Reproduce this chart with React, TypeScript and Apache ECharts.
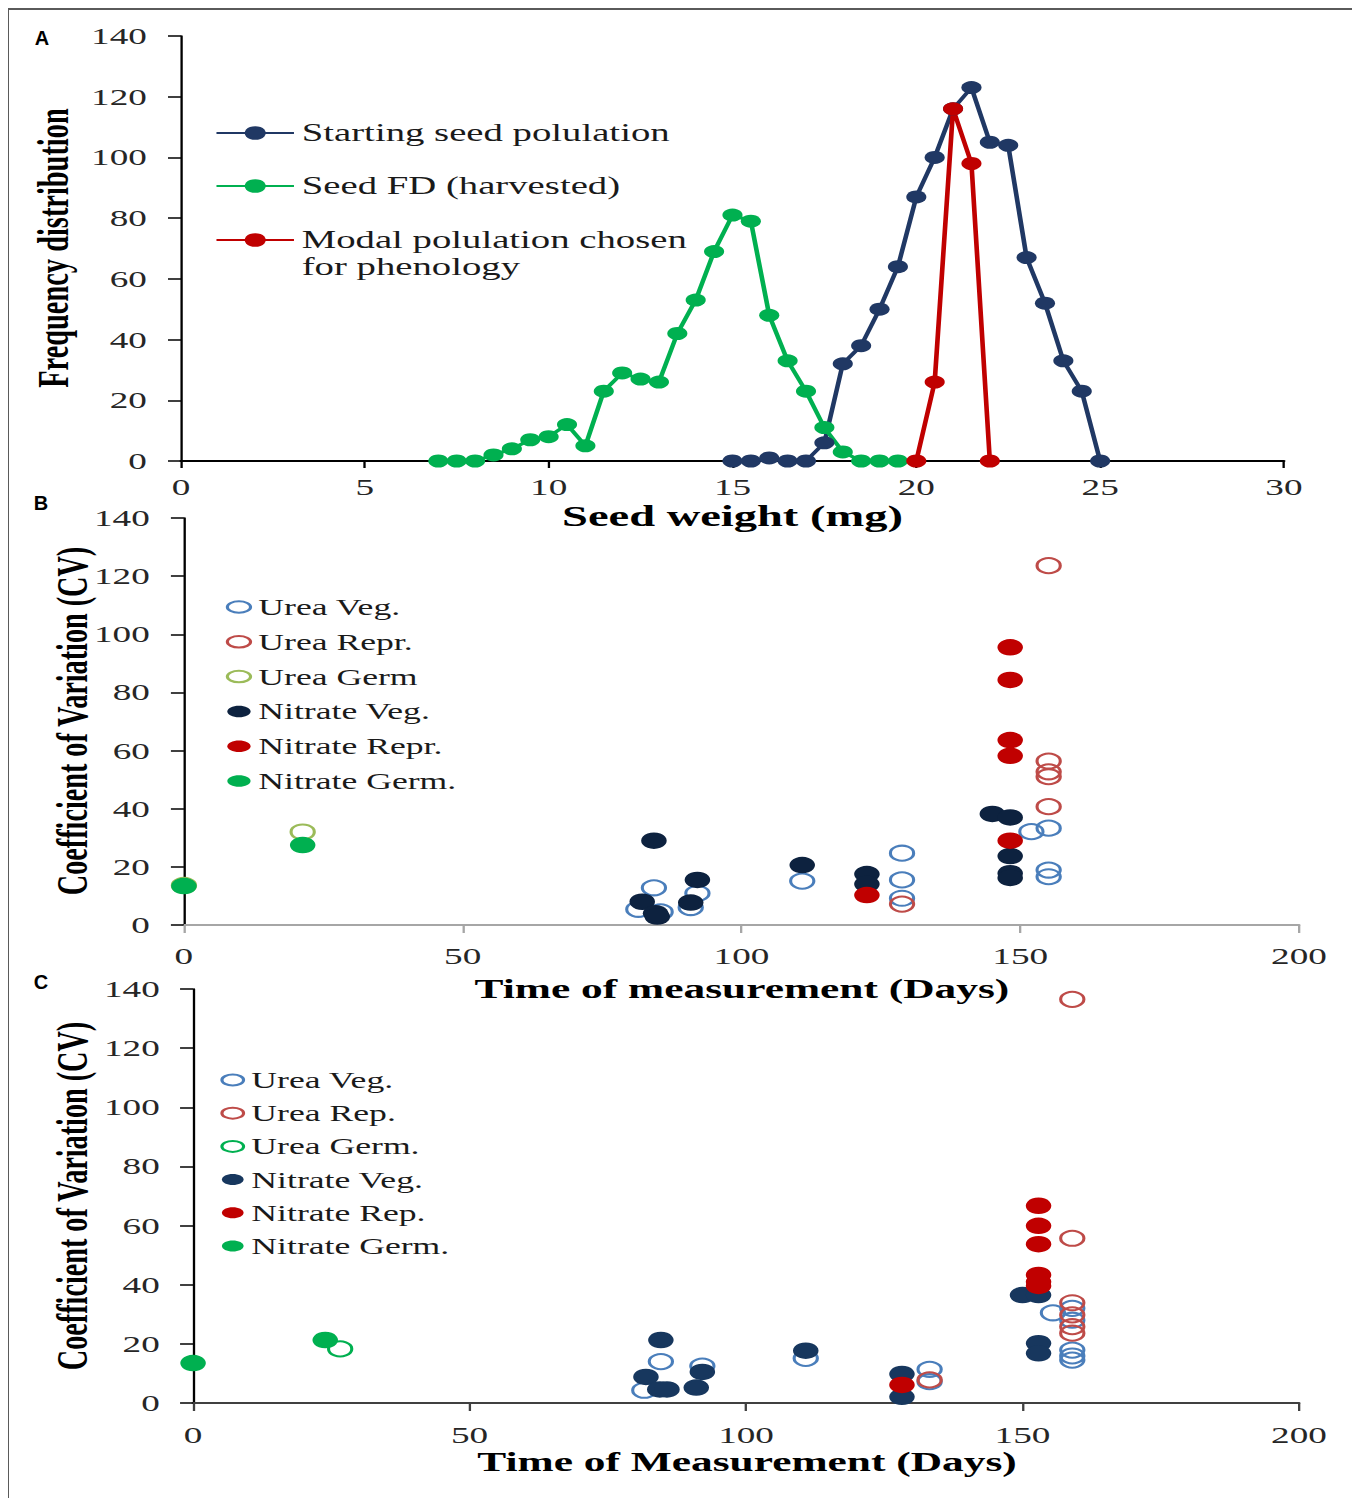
import React, { useEffect, useRef } from 'react';
import * as echarts from 'echarts';

// horizontal stretch of the original figure
const K = 1.55;
const W = 1344 / K;
const H = 1490;

const SERIF = '"Liberation Serif", "Times New Roman", serif';
const SANS = '"Liberation Sans", Arial, sans-serif';
const ELLIPSE =
  'path://M0,50C0,22.4 30.5,0 68,0C105.5,0 136,22.4 136,50C136,77.6 105.5,100 68,100C30.5,100 0,77.6 0,50Z';

// ---------- Panel A: seed weight frequency distribution ----------
const weightStart = [15, 15.5, 16, 16.5, 17, 17.5, 18, 18.5, 19, 19.5, 20, 20.5, 21, 21.5, 22, 22.5, 23, 23.5, 24, 24.5, 25];
const freqStart = [0, 0, 1, 0, 0, 6, 32, 38, 50, 64, 87, 100, 116, 123, 105, 104, 67, 52, 33, 23, 0];
const weightHarvest = [7, 7.5, 8, 8.5, 9, 9.5, 10, 10.5, 11, 11.5, 12, 12.5, 13, 13.5, 14, 14.5, 15, 15.5, 16, 16.5, 17, 17.5, 18, 18.5, 19, 19.5];
const freqHarvest = [0, 0, 0, 2, 4, 7, 8, 12, 5, 23, 29, 27, 26, 42, 53, 69, 81, 79, 48, 33, 23, 11, 3, 0, 0, 0];
const weightModal = [20, 20.5, 21, 21.5, 22];
const freqModal = [0, 26, 116, 98, 0];
const aXTicks = { min: 0, max: 30, interval: 5 };
const cvTicks = { min: 0, max: 140, interval: 20 };
const dayTicks = { min: 0, max: 200, interval: 50 };

// ---------- Panel B ----------
const bUreaVegDay = [81.5, 84.3, 85.5, 90.9, 92.1, 110.9, 128.8, 128.8, 128.8, 152.0, 155.1, 155.1, 155.1];
const bUreaVegCV = [5.4, 12.8, 4.5, 6.0, 10.9, 15.1, 24.7, 15.5, 9.2, 32.1, 33.3, 18.9, 16.6];
const bUreaReprDay = [128.8, 155.1, 155.1, 155.1, 155.1, 155.1];
const bUreaReprCV = [7.2, 123.6, 56.4, 52.7, 51.0, 40.7];
const bUreaGermDay = [0, 21.3];
const bUreaGermCV = [13.6, 32.0];
const bNitVegDay = [82.2, 84.3, 84.6, 84.9, 90.9, 92.1, 110.9, 122.5, 122.5, 145.0, 148.2, 148.2, 148.2, 148.2];
const bNitVegCV = [8.0, 29.0, 4.0, 2.9, 7.7, 15.5, 20.6, 17.5, 14.1, 38.2, 37.0, 23.7, 17.8, 16.2];
const bNitReprDay = [122.5, 148.2, 148.2, 148.2, 148.2, 148.2];
const bNitReprCV = [10.3, 95.5, 84.3, 63.6, 58.2, 29.0];
const bNitGermDay = [0, 21.3];
const bNitGermCV = [13.4, 27.5];

// ---------- Panel C ----------
const cUreaVegDay = [81.6, 84.6, 92.1, 110.8, 133.2, 133.2, 155.5, 159, 159, 159, 159, 159];
const cUreaVegCV = [4.3, 14.0, 12.5, 15.1, 11.4, 7.2, 30.5, 32.0, 28.0, 17.9, 15.9, 14.5];
const cUreaRepDay = [133.2, 159, 159, 159, 159, 159, 159];
const cUreaRepCV = [7.8, 136.5, 55.7, 33.9, 29.8, 25.8, 23.6];
const cUreaGermDay = [26.6];
const cUreaGermCV = [18.3];
const cNitVegDay = [81.9, 84.6, 84.4, 85.7, 91.0, 92.1, 110.8, 128.2, 128.2, 150.0, 152.9, 152.9, 152.9];
const cNitVegCV = [8.8, 21.3, 4.6, 4.6, 5.2, 10.5, 17.7, 9.8, 2.1, 36.5, 36.5, 20.2, 16.8];
const cNitRepDay = [128.2, 152.9, 152.9, 152.9, 152.9, 152.9, 152.9];
const cNitRepCV = [6.1, 66.7, 59.9, 53.7, 43.3, 41.0, 39.6];
const cNitGermDay = [0, 23.9];
const cNitGermCV = [13.5, 21.3];

const pairs = (xs: number[], ys: number[]) => xs.map((x, i) => [x, ys[i]]);

const tickLabel = (margin: number) => ({
  show: true,
  margin,
  fontSize: 24,
  lineHeight: 24,
  fontFamily: SERIF,
  color: '#262626',
});

const valueAxis = (ticks: any, lineColor: string, lineWidth: number, tickLen: number, margin: number) => ({
  type: 'value',
  ...ticks,
  axisLine: { show: true, onZero: false, lineStyle: { color: lineColor, width: lineWidth } },
  axisTick: { show: true, inside: false, length: tickLen, lineStyle: { color: lineColor, width: 1.5 } },
  axisLabel: tickLabel(margin),
  splitLine: { show: false },
});

const title = (text: string, x: number, y: number, size: number, rotate = false) => ({
  type: 'text',
  x,
  y,
  rotation: rotate ? Math.PI / 2 : 0,
  silent: true,
  style: {
    text,
    x: 0,
    y: 0,
    fill: '#000',
    font: `bold ${size}px ${SERIF}`,
    lineHeight: 22,
    align: 'center',
    verticalAlign: 'middle',
  },
});

const panelLabel = (text: string, x: number, y: number) => ({
  type: 'text',
  x,
  y,
  scaleX: 1 / K,
  silent: true,
  style: {
    text,
    x: 0,
    y: 0,
    fill: '#000',
    font: `bold 20px ${SANS}`,
    align: 'center',
    verticalAlign: 'middle',
  },
});

const openSeries = (name: string, xs: number[], ys: number[], color: string) => ({
  name,
  type: 'scatter',
  data: pairs(xs, ys),
  symbol: 'circle',
  symbolSize: 15,
  clip: false,
  itemStyle: { color: 'transparent', borderColor: color, borderWidth: 2, opacity: 1 },
});

const filledSeries = (name: string, xs: number[], ys: number[], color: string) => ({
  name,
  type: 'scatter',
  data: pairs(xs, ys),
  symbol: 'circle',
  symbolSize: 16.5,
  clip: false,
  itemStyle: { color, opacity: 1 },
});

const lineSeries = (name: string, xs: number[], ys: number[], color: string) => ({
  name,
  type: 'line',
  data: pairs(xs, ys),
  symbol: 'circle',
  symbolSize: 13,
  showSymbol: true,
  clip: false,
  lineStyle: { color, width: 3 },
  itemStyle: { color },
});

const legendText = (size: number, lh: number) => ({
  fontSize: size,
  fontFamily: SERIF,
  color: '#1a1a1a',
  lineHeight: lh,
});

const NAME_A1 = 'Starting seed polulation';
const NAME_A2 = 'Seed FD (harvested)';
const NAME_A3 = 'Modal polulation chosen\nfor phenology';

const optionA: any = {
  animation: false,
  grid: { left: 111.6, top: 28, width: 711.6, height: 425, outerBoundsMode: 'none', containLabel: false },
  xAxis: valueAxis(aXTicks, '#000', 2, 7, 14),
  yAxis: valueAxis(cvTicks, '#000', 1.5, 8.4, 22),
  legend: [
    {
      orient: 'vertical',
      left: 133.5,
      top: 111.5,
      padding: 0,
      itemGap: 26,
      itemWidth: 50,
      itemHeight: 17,
      selectedMode: false,
      data: [NAME_A1, NAME_A2],
      textStyle: legendText(25, 27),
    },
    {
      orient: 'vertical',
      left: 133.5,
      top: 191.5,
      padding: 0,
      itemWidth: 50,
      itemHeight: 17,
      selectedMode: false,
      // a leading blank line keeps the marker level with the first text line
      formatter: (name: string) => '\n' + name,
      data: [NAME_A3],
      textStyle: legendText(25, 27),
    },
  ],
  series: [
    lineSeries(NAME_A1, weightStart, freqStart, '#203864'),
    lineSeries(NAME_A2, weightHarvest, freqHarvest, '#00b050'),
    lineSeries(NAME_A3, weightModal, freqModal, '#c00000'),
  ],
  graphic: [
    title('Seed weight (mg)', 467.4, 508, 30),
    title('Frequency distribution', 29, 240, 28.4, true),
    panelLabel('A', 21.9, 30),
  ],
};

const scatterLegend = (left: number, top: number, gap: number, w: number, h: number, names: string[]) => ({
  orient: 'vertical',
  left,
  top,
  padding: 0,
  itemGap: gap,
  itemWidth: w,
  itemHeight: h,
  icon: ELLIPSE,
  symbolKeepAspect: false,
  selectedMode: false,
  data: names,
  textStyle: legendText(23, 24),
});

const bNames = ['Urea Veg.', 'Urea Repr.', 'Urea Germ', 'Nitrate Veg.', 'Nitrate Repr.', 'Nitrate Germ.'];
const optionB: any = {
  animation: false,
  grid: { left: 113.5, top: 510, width: 719.4, height: 407, outerBoundsMode: 'none', containLabel: false },
  xAxis: valueAxis(dayTicks, '#a6a6a6', 2, 8, 19),
  yAxis: valueAxis(cvTicks, '#000', 1.5, 8.4, 22),
  legend: scatterLegend(140.5, 587, 10.8, 15, 11.5, bNames),
  series: [
    openSeries(bNames[0], bUreaVegDay, bUreaVegCV, '#4a7ebb'),
    openSeries(bNames[1], bUreaReprDay, bUreaReprCV, '#be4b48'),
    openSeries(bNames[2], bUreaGermDay, bUreaGermCV, '#9bbb59'),
    filledSeries(bNames[3], bNitVegDay, bNitVegCV, '#0d223f'),
    filledSeries(bNames[4], bNitReprDay, bNitReprCV, '#c00000'),
    filledSeries(bNames[5], bNitGermDay, bNitGermCV, '#00b050'),
  ],
  graphic: [
    title('Time of measurement (Days)', 473.5, 980, 28),
    title('Coefficient of Variation (CV)', 41.3, 713, 28.2, true),
    panelLabel('B', 21.3, 495),
  ],
};

const cNames = ['Urea Veg.', 'Urea Rep.', 'Urea Germ.', 'Nitrate Veg.', 'Nitrate Rep.', 'Nitrate Germ.'];
const optionC: any = {
  animation: false,
  grid: { left: 119.4, top: 981, width: 713.5, height: 414, outerBoundsMode: 'none', containLabel: false },
  xAxis: valueAxis(dayTicks, '#404040', 2, 8, 19.5),
  yAxis: valueAxis(cvTicks, '#000', 1.5, 8.4, 21.5),
  legend: scatterLegend(137, 1060, 9.2, 14, 11, cNames),
  series: [
    openSeries(cNames[0], cUreaVegDay, cUreaVegCV, '#4a7ebb'),
    openSeries(cNames[1], cUreaRepDay, cUreaRepCV, '#be4b48'),
    openSeries(cNames[2], cUreaGermDay, cUreaGermCV, '#00b050'),
    filledSeries(cNames[3], cNitVegDay, cNitVegCV, '#17375e'),
    filledSeries(cNames[4], cNitRepDay, cNitRepCV, '#c00000'),
    filledSeries(cNames[5], cNitGermDay, cNitGermCV, '#00b050'),
  ],
  graphic: [
    title('Time of Measurement (Days)', 476.8, 1453, 28),
    title('Coefficient of Variation (CV)', 41.3, 1188, 28.2, true),
    panelLabel('C', 21.3, 974),
  ],
};

export default function App() {
  const refA = useRef<HTMLDivElement>(null);
  const refB = useRef<HTMLDivElement>(null);
  const refC = useRef<HTMLDivElement>(null);

  useEffect(() => {
    const list: [React.RefObject<HTMLDivElement>, any][] = [
      [refA, optionA],
      [refB, optionB],
      [refC, optionC],
    ];
    const charts = list.map(([r, opt]) => {
      const c = echarts.init(r.current as HTMLDivElement, null, { renderer: 'svg' });
      c.setOption(opt);
      return c;
    });
    return () => charts.forEach((c) => c.dispose());
  }, []);

  const layer: React.CSSProperties = { position: 'absolute', left: 0, top: 0, width: W, height: H };

  return (
    <div style={{ position: 'relative', width: 1344, height: H }}>
      <div
        style={{
          position: 'absolute',
          left: -1,
          top: 0,
          width: 1349,
          height: H,
          boxSizing: 'border-box',
          borderTop: '2px solid #5a5a5a',
          borderLeft: '2px solid #5a5a5a',
          borderRight: '2px solid #5a5a5a',
        }}
      />
      <div
        style={{
          position: 'absolute',
          left: 0,
          top: 0,
          width: W,
          height: H,
          transform: `scaleX(${K})`,
          transformOrigin: '0 0',
        }}
      >
        <div ref={refA} style={layer} />
        <div ref={refB} style={layer} />
        <div ref={refC} style={layer} />
      </div>
    </div>
  );
}
